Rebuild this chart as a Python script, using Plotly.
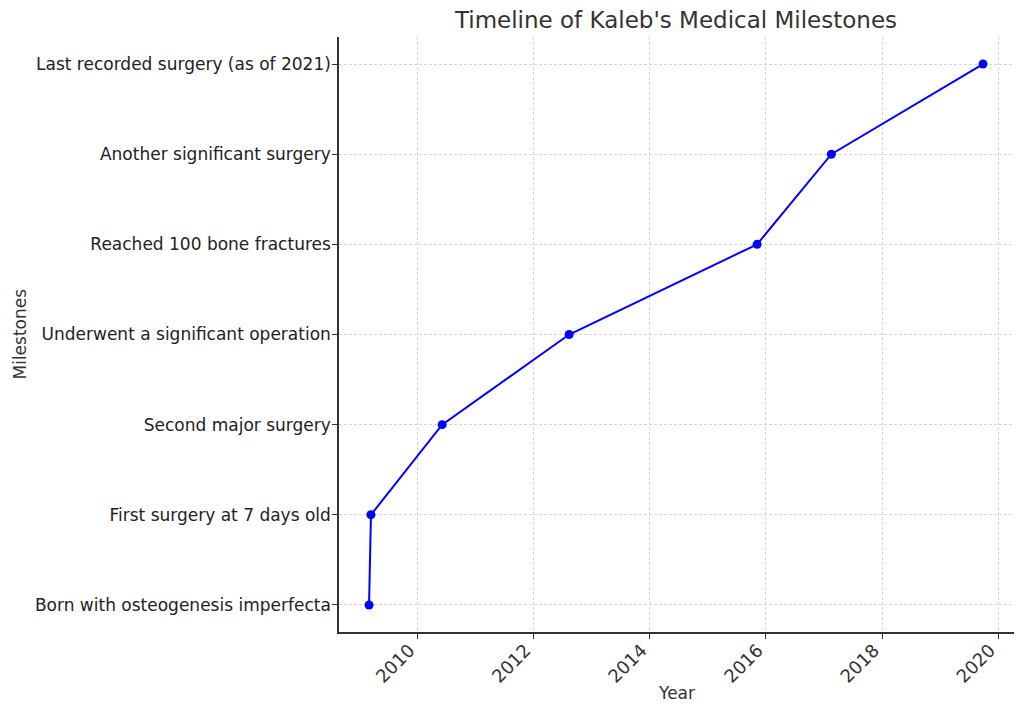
import plotly.graph_objects as go

milestones = [
    "Born with osteogenesis imperfecta",
    "First surgery at 7 days old",
    "Second major surgery",
    "Underwent a significant operation",
    "Reached 100 bone fractures",
    "Another significant surgery",
    "Last recorded surgery (as of 2021)",
]
dates = [
    "2009-03-02",
    "2009-03-14",
    "2010-06-05",
    "2012-08-12",
    "2015-11-07",
    "2017-02-16",
    "2019-09-28",
]
tick_years = ["2010-01-01", "2012-01-01", "2014-01-01", "2016-01-01", "2018-01-01", "2020-01-01"]
tick_labels = ["2010", "2012", "2014", "2016", "2018", "2020"]

font_fam = "DejaVu Sans"
fig = go.Figure()
fig.add_trace(go.Scatter(
    x=dates, y=list(range(len(milestones))),
    mode="lines+markers",
    line=dict(color="#0000ff", width=2),
    marker=dict(color="#0000ff", size=9),
    hoverinfo="skip",
))

# page body has an 8px margin: shrink the figure to compensate
fig.update_layout(
    width=1008, height=698,
    margin=dict(l=331, r=2, t=29, b=74, autoexpand=False),
    paper_bgcolor="white", plot_bgcolor="white",
    showlegend=False,
    font=dict(family=font_fam, color="#333333"),
    title=dict(text="Timeline of Kaleb's Medical Milestones", x=(676 - 8) / 1008, xanchor="center",
               y=1 - 12 / 698, yanchor="middle", automargin=False,
               font=dict(size=23, color="#333333")),
    annotations=[
        dict(text="Year", xref="paper", yref="paper", x=0.5, y=-61 / 595,
             xanchor="center", yanchor="middle", showarrow=False,
             font=dict(size=17, color="#333333")),
        dict(text="Milestones", xref="paper", yref="paper", x=-320 / 675, y=0.5,
             xanchor="center", yanchor="middle", showarrow=False, textangle=-90,
             font=dict(size=17, color="#333333")),
    ],
)
grid = dict(showgrid=True, gridcolor="#d6d6d6", griddash="3px,2px", gridwidth=0.8)
fig.update_xaxes(
    type="date", range=["2008-08-25", "2020-04-10"], automargin=False,
    tickvals=tick_years, ticktext=tick_labels, tickangle=-45,
    tickfont=dict(size=18, color="#333333"),
    ticklabelshift=-8, ticklabelstandoff=-6,
    showline=True, linecolor="#333333", linewidth=1.5,
    ticks="outside", ticklen=5, tickcolor="#333333",
    zeroline=False,
    **grid,
)
fig.update_yaxes(
    range=[-0.3, 6.3], automargin=False,
    tickvals=list(range(len(milestones))), ticktext=milestones,
    tickfont=dict(size=17, color="#222222"),
    ticklabelstandoff=-2,
    showline=True, linecolor="#333333", linewidth=1.5,
    ticks="outside", ticklen=5, tickcolor="#333333",
    zeroline=False,
    **grid,
)
fig.write_html("out.html")
